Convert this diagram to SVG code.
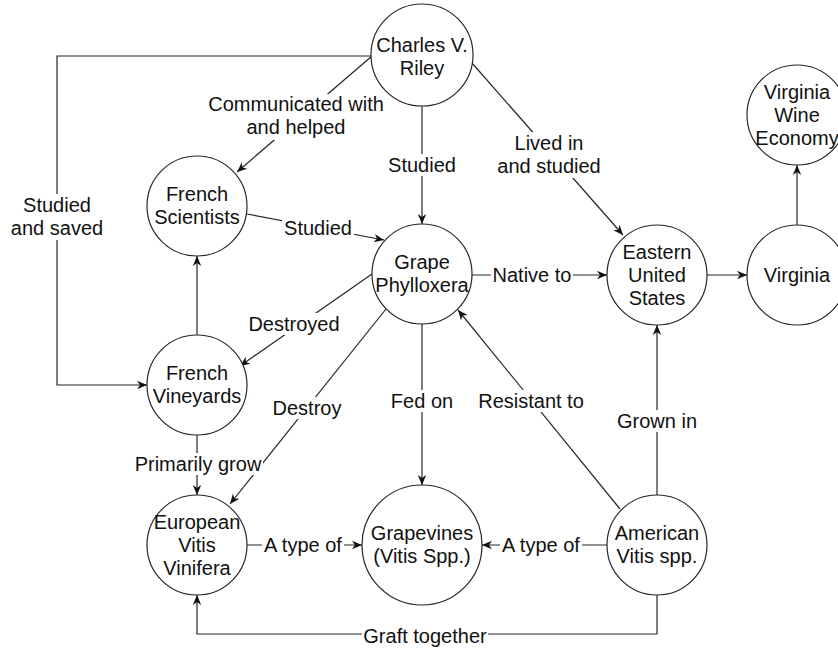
<svg xmlns="http://www.w3.org/2000/svg" width="838" height="649" viewBox="0 0 838 649">
<style>
.n{fill:#fff;stroke:#262626;stroke-width:1.2}
.t{font-family:"Liberation Sans",Arial,Helvetica,sans-serif;font-size:20px;fill:#111;text-anchor:middle}
.e{fill:none;stroke:#262626;stroke-width:1.2}
.a{marker-end:url(#arr)}
.lb{fill:#fff}
</style>
<defs>
<marker id="arr" markerWidth="12" markerHeight="10" refX="10" refY="5" orient="auto" markerUnits="userSpaceOnUse">
<path d="M0,0.8 L10,5 L0,9.2 L3,5 Z" fill="#111"/>
</marker>
</defs>
<rect width="838" height="649" fill="#fff"/>
<g id="connectors">
<path class="e a" d="M372,56 L237,172"/>
<path class="e a" d="M422,106 L422,224"/>
<path class="e a" d="M472,63 L623,235"/>
<path class="e a" d="M247,214 L384,240"/>
<path class="e a" d="M472,275 L607,275"/>
<path class="e a" d="M707,275 L747,275"/>
<path class="e a" d="M797,225 L797,165"/>
<path class="e a" d="M372,274 L240,366"/>
<path class="e a" d="M197,335 L197,256"/>
<path class="e a" d="M372,56 H57 V385 H147"/>
<path class="e a" d="M386,309 L230,504"/>
<path class="e a" d="M422,324 L422,485"/>
<path class="e a" d="M620,509 L458,310"/>
<path class="e a" d="M657,495 L657,325"/>
<path class="e a" d="M197,435 L197,495"/>
<path class="e a" d="M247,545 L362,545"/>
<path class="e a" d="M607,545 L482,545"/>
<path class="e a" d="M657,595 V634 H197 V595"/>
<g id="labels">
<rect class="lb" x="206" y="94" width="180" height="46"/>
<text class="t" x="296" y="111">Communicated with</text>
<text class="t" x="296" y="134">and helped</text>
<rect class="lb" x="386" y="154" width="72" height="22"/>
<text class="t" x="422" y="172">Studied</text>
<rect class="lb" x="495" y="132" width="108" height="46"/>
<text class="t" x="549" y="150">Lived in</text>
<text class="t" x="549" y="173">and studied</text>
<rect class="lb" x="282" y="217" width="72" height="22"/>
<text class="t" x="318" y="235">Studied</text>
<rect class="lb" x="491" y="264" width="82" height="22"/>
<text class="t" x="532" y="282">Native to</text>
<rect class="lb" x="247" y="313" width="94" height="22"/>
<text class="t" x="294" y="331">Destroyed</text>
<rect class="lb" x="9" y="194" width="96" height="46"/>
<text class="t" x="57" y="212">Studied</text>
<text class="t" x="57" y="235">and saved</text>
<rect class="lb" x="271" y="397" width="72" height="22"/>
<text class="t" x="307" y="415">Destroy</text>
<rect class="lb" x="389" y="390" width="66" height="22"/>
<text class="t" x="422" y="408">Fed on</text>
<rect class="lb" x="477" y="390" width="108" height="22"/>
<text class="t" x="531" y="408">Resistant to</text>
<rect class="lb" x="616" y="410" width="82" height="22"/>
<text class="t" x="657" y="428">Grown in</text>
<rect class="lb" x="133" y="453" width="130" height="22"/>
<text class="t" x="198" y="471">Primarily grow</text>
<rect class="lb" x="262" y="534" width="82" height="22"/>
<text class="t" x="303" y="552">A type of</text>
<rect class="lb" x="500" y="534" width="82" height="22"/>
<text class="t" x="541" y="552">A type of</text>
<rect class="lb" x="362" y="625" width="126" height="22"/>
<text class="t" x="425" y="643">Graft together</text>
</g>
</g>
<g id="riley"><circle class="n" cx="422" cy="55" r="51"/><text class="t" x="422" y="52">Charles V.</text><text class="t" x="422" y="75">Riley</text></g>
<g id="scientists"><circle class="n" cx="197" cy="206" r="50"/><text class="t" x="197" y="201">French</text><text class="t" x="197" y="224">Scientists</text></g>
<g id="phylloxera"><circle class="n" cx="422" cy="274" r="50"/><text class="t" x="422" y="269">Grape</text><text class="t" x="422" y="292">Phylloxera</text></g>
<g id="eastern"><circle class="n" cx="657" cy="275" r="50"/><text class="t" x="657" y="259">Eastern</text><text class="t" x="657" y="282">United</text><text class="t" x="657" y="305">States</text></g>
<g id="virginia"><circle class="n" cx="797" cy="275" r="50"/><text class="t" x="797" y="282">Virginia</text></g>
<g id="wine"><circle class="n" cx="797" cy="115" r="50"/><text class="t" x="797" y="99">Virginia</text><text class="t" x="797" y="122">Wine</text><text class="t" x="797" y="145">Economy</text></g>
<g id="vineyards"><circle class="n" cx="197" cy="385" r="50"/><text class="t" x="197" y="380">French</text><text class="t" x="197" y="403">Vineyards</text></g>
<g id="european"><circle class="n" cx="197" cy="545" r="50"/><text class="t" x="197" y="529">European</text><text class="t" x="197" y="552">Vitis</text><text class="t" x="197" y="575">Vinifera</text></g>
<g id="grapevines"><circle class="n" cx="422" cy="545" r="60"/><text class="t" x="422" y="540">Grapevines</text><text class="t" x="422" y="563">(Vitis Spp.)</text></g>
<g id="american"><circle class="n" cx="657" cy="545" r="50"/><text class="t" x="657" y="540">American</text><text class="t" x="657" y="563">Vitis spp.</text></g>
</svg>
